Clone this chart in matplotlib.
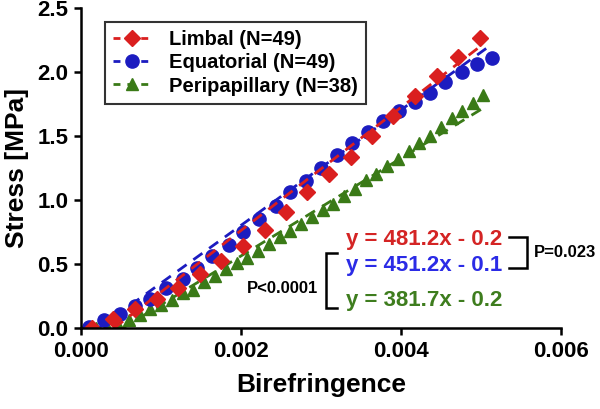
import numpy as np
import matplotlib
matplotlib.use("Agg")
import matplotlib.pyplot as plt

plt.rcParams['font.family'] = ['Liberation Sans', 'DejaVu Sans']
plt.rcParams['font.weight'] = 'bold'

# mean stress-birefringence curves
limbal_x = [0.00014, 0.00040, 0.00068, 0.00095, 0.00121, 0.00149, 0.00175,
            0.00203, 0.00230, 0.00256, 0.00283, 0.00310, 0.00338, 0.00364,
            0.00390, 0.00418, 0.00445, 0.00471, 0.00499]
limbal_y = [0.00, 0.07, 0.15, 0.23, 0.31, 0.42, 0.52, 0.64, 0.77, 0.91,
            1.06, 1.20, 1.34, 1.50, 1.66, 1.81, 1.97, 2.12, 2.27]

equat_x = [0.00010, 0.00029, 0.00049, 0.00068, 0.00086, 0.00106, 0.00128,
           0.00145, 0.00164, 0.00185, 0.00203, 0.00223, 0.00244, 0.00261,
           0.00281, 0.00300, 0.00320, 0.00339, 0.00359, 0.00378, 0.00398,
           0.00418, 0.00436, 0.00455, 0.00476, 0.00495, 0.00514]
equat_y = [0.01, 0.06, 0.11, 0.17, 0.23, 0.31, 0.38, 0.47, 0.56, 0.65,
           0.75, 0.85, 0.95, 1.06, 1.15, 1.25, 1.35, 1.45, 1.53, 1.62,
           1.70, 1.77, 1.84, 1.92, 2.00, 2.06, 2.11]

peri_x = [0.00005, 0.00019, 0.00033, 0.00046, 0.00060, 0.00074, 0.00086,
          0.00100, 0.00114, 0.00128, 0.00140, 0.00154, 0.00168, 0.00181,
          0.00195, 0.00208, 0.00221, 0.00235, 0.00249, 0.00261, 0.00275,
          0.00289, 0.00303, 0.00315, 0.00329, 0.00343, 0.00356, 0.00369,
          0.00383, 0.00396, 0.00410, 0.00423, 0.00436, 0.00450, 0.00464,
          0.00476, 0.00490, 0.00503]
peri_y = [0.00, 0.00, 0.01, 0.02, 0.06, 0.10, 0.15, 0.18, 0.22, 0.27,
          0.30, 0.36, 0.41, 0.46, 0.51, 0.55, 0.60, 0.66, 0.71, 0.76,
          0.81, 0.87, 0.92, 0.97, 1.03, 1.09, 1.16, 1.20, 1.27, 1.32,
          1.38, 1.45, 1.50, 1.57, 1.64, 1.70, 1.76, 1.82]

# linear fits (slope, intercept) as printed on the chart
fits = {'limbal': (481.2, -0.2), 'equat': (451.2, -0.1), 'peri': (381.7, -0.2)}

labels = ['Limbal (N=49)', 'Equatorial (N=49)', 'Peripapillary (N=38)']
colors = ['#DA1F1F', '#1C1CC0', '#3A7A17']
eq_colors = ['#D42424', '#2B2BE6', '#3E7D1E']

fig = plt.figure(figsize=(6, 4.09), dpi=100)
ax = fig.add_axes([0.135, 0.198, 0.80, 0.782])

series = [(limbal_x, limbal_y, 'D', 8, 'limbal', 4),
          (equat_x, equat_y, 'o', 9.5, 'equat', 3),
          (peri_x, peri_y, '^', 8.5, 'peri', 2)]

for (xs, ys, mk, ms, key, z), col, lab in zip(series, colors, labels):
    m, b = fits[key]
    x0 = max(min(xs), -b / m)
    xl = np.array([x0, max(xs)])
    ax.plot(xl, m * xl + b, ls=(0, (4, 3)), color=col, lw=2, zorder=z)
    ax.plot(xs, ys, ls='none', marker=mk, ms=ms, color=col, zorder=z + 0.5)
    # legend proxy: dashed line with marker
    ax.plot([], [], ls=(0, (2.5, 2.5)), lw=2, marker=mk, ms=ms, color=col, label=lab)

ax.set_xlim(0, 0.006)
ax.set_ylim(0, 2.5)
ax.set_xticks([0, 0.002, 0.004, 0.006])
ax.set_yticks([0, 0.5, 1.0, 1.5, 2.0, 2.5])
ax.xaxis.set_major_formatter(matplotlib.ticker.FormatStrFormatter('%.3f'))
ax.yaxis.set_major_formatter(matplotlib.ticker.FormatStrFormatter('%.1f'))
ax.tick_params(labelsize=16, width=1.8, length=5, direction='out', pad=4)
for lab in ax.get_xticklabels() + ax.get_yticklabels():
    lab.set_fontweight('bold')
for s in ['top', 'right']:
    ax.spines[s].set_visible(False)
for s in ['left', 'bottom']:
    ax.spines[s].set_linewidth(1.8)
    ax.spines[s].set_zorder(10)

ax.set_xlabel('Birefringence', fontsize=19, fontweight='bold', labelpad=8)
ax.set_ylabel('Stress [MPa]', fontsize=19, fontweight='bold', labelpad=6)

leg = ax.legend(loc='upper left', bbox_to_anchor=(0.05, 0.958), borderaxespad=0,
                fancybox=False, edgecolor='#333333', fontsize=14.5,
                handlelength=1.9, handletextpad=0.9, labelspacing=0.22,
                borderpad=0.4, framealpha=1)
leg.get_frame().set_linewidth(1.5)
for t in leg.get_texts():
    t.set_fontweight('bold')

# regression equations
eqs = ['y = 481.2x - 0.2', 'y = 451.2x - 0.1', 'y = 381.7x - 0.2']
eq_y = [0.278, 0.197, 0.0875]
for txt, yy, c in zip(eqs, eq_y, eq_colors):
    ax.text(0.552, yy, txt, transform=ax.transAxes, color=c, fontsize=16,
            fontweight='bold', va='center', ha='left')

# significance brackets
bk = dict(color='black', lw=1.8, transform=ax.transAxes, clip_on=False,
          solid_joinstyle='miter')
ax.plot([0.892, 0.929, 0.929, 0.892], [0.284, 0.284, 0.1875, 0.1875], **bk)
ax.plot([0.533, 0.510, 0.510, 0.533], [0.234, 0.234, 0.0625, 0.0625], **bk)
ax.text(0.943, 0.236, 'P=0.023', transform=ax.transAxes, fontsize=12,
        fontweight='bold', va='center', ha='left')
ax.text(0.494, 0.122, 'P<0.0001', transform=ax.transAxes, fontsize=12,
        fontweight='bold', va='center', ha='right')

fig.savefig('out.png', dpi=100)
